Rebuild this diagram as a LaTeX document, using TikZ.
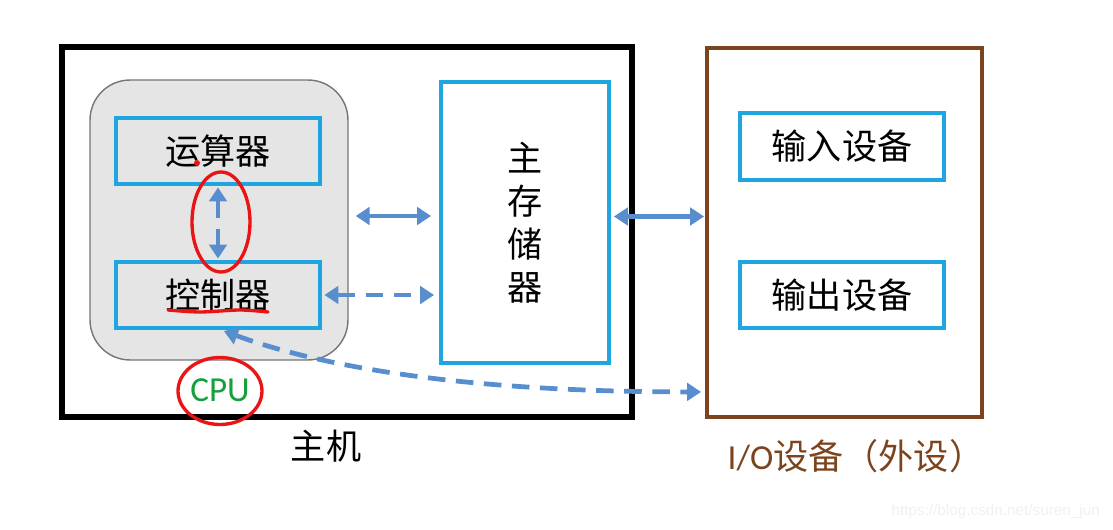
\documentclass[tikz,border=0pt]{standalone}
\usepackage{fontspec}
\setmainfont{Carlito}
\newfontfamily\cjk{Noto Sans CJK SC}
\newfontfamily\wmfont{Liberation Sans}
\usepackage{tikz}
\usetikzlibrary{positioning,arrows.meta,calc}
\definecolor{unitblue}{RGB}{31,166,224}
\definecolor{linkblue}{RGB}{88,142,206}
\definecolor{iobrown}{RGB}{124,68,30}
\definecolor{cpugray}{RGB}{229,229,229}
\definecolor{cpuedge}{RGB}{118,118,118}
\definecolor{cpugreen}{RGB}{22,160,60}
\definecolor{penred}{RGB}{235,20,20}

\begin{document}
\begin{tikzpicture}[x=0.02cm,y=-0.02cm,
  big/.style={font=\cjk\fontsize{20}{24.5}\selectfont},
  unit/.style={draw=unitblue,line width=2.2pt,big,inner sep=0pt,minimum width=4.08cm,minimum height=1.32cm},
  link/.style={draw=linkblue,line width=2.7pt,{Triangle[width=10pt,length=8pt]}-{Triangle[width=10pt,length=8pt]}},
  dlink/.style={link,dash pattern=on 10pt off 6pt},
  pen/.style={draw=penred,line width=1.9pt,line cap=round}]
\useasboundingbox (0,0) rectangle (1113,530);
\node[draw=black,line width=3pt,minimum width=11.4cm,minimum height=7.4cm] (host) at (347,232) {};
\node[draw=cpuedge,fill=cpugray,line width=0.8pt,rounded corners=0.8cm,minimum width=5.16cm,minimum height=5.6cm] (cpu) at (219,220) {};
\node[unit] (alu) at (218,151) {运算器};
\node[unit] (ctrl) at (218,295) {控制器};
\node[unit,minimum width=3.36cm,minimum height=5.62cm,align=center] (mem) at (525,222.5) {主\\存\\储\\器};
\node[draw=iobrown,line width=2.2pt,minimum width=5.5cm,minimum height=7.38cm] (io) at (844.5,232.5) {};
\node[unit,minimum height=1.34cm] (inp) at (842,146.5) {输入设备};
\node[unit] (outp) at (842,295) {输出设备};
\node[font=\fontsize{20}{24}\selectfont,text=cpugreen] (cpulabel) at (220,390) {CPU};
\node[big] (hostlabel) at (326,446) {主机};
\node[font=\fontsize{20}{24}\selectfont,text=iobrown] (iolabel) at (856,456) {I/O{\cjk 设备（外设）}};
\node[font=\wmfont\fontsize{8.7}{10}\selectfont,text=gray!12,anchor=east] (mark) at (1106,512) {https://blog.csdn.net/suren\_jun};
\coordinate (ioport) at ($(io.south west)+(0,-27)$);
\draw[link,shorten <=0.14cm,shorten >=0.16cm] ($(cpu.east)+(0,-4)$) -- ($(cpu.east -| mem.west)+(0,-4)$);
\draw[dlink,shorten <=0.05cm,shorten >=0.1cm] (ctrl.east) -- (ctrl.east -| mem.west);
\draw[link,shorten <=0.06cm,shorten >=0.02cm] ($(mem.east)+(0,-6)$) -- ($(mem.east -| io.west)+(0,-6)$);
\draw[dlink,shorten <=0.03cm,shorten >=0.03cm] (alu.south) -- (ctrl.north);
\draw[dlink,shorten <=0.06cm,shorten >=0.08cm] ($(ctrl.south)+(3,0)$) .. controls (330,370) and (480,392) .. (ioport);
\draw[pen] (221,222) ellipse [x radius=0.58cm,y radius=1cm];
\draw[pen] (220,391) ellipse [x radius=0.84cm,y radius=0.67cm];
\draw[pen] plot[smooth] coordinates {(168,310) (200,312) (240,310) (268,312)};
\fill[penred] (197,163) circle[radius=1.7pt];
\end{tikzpicture}
\end{document}
